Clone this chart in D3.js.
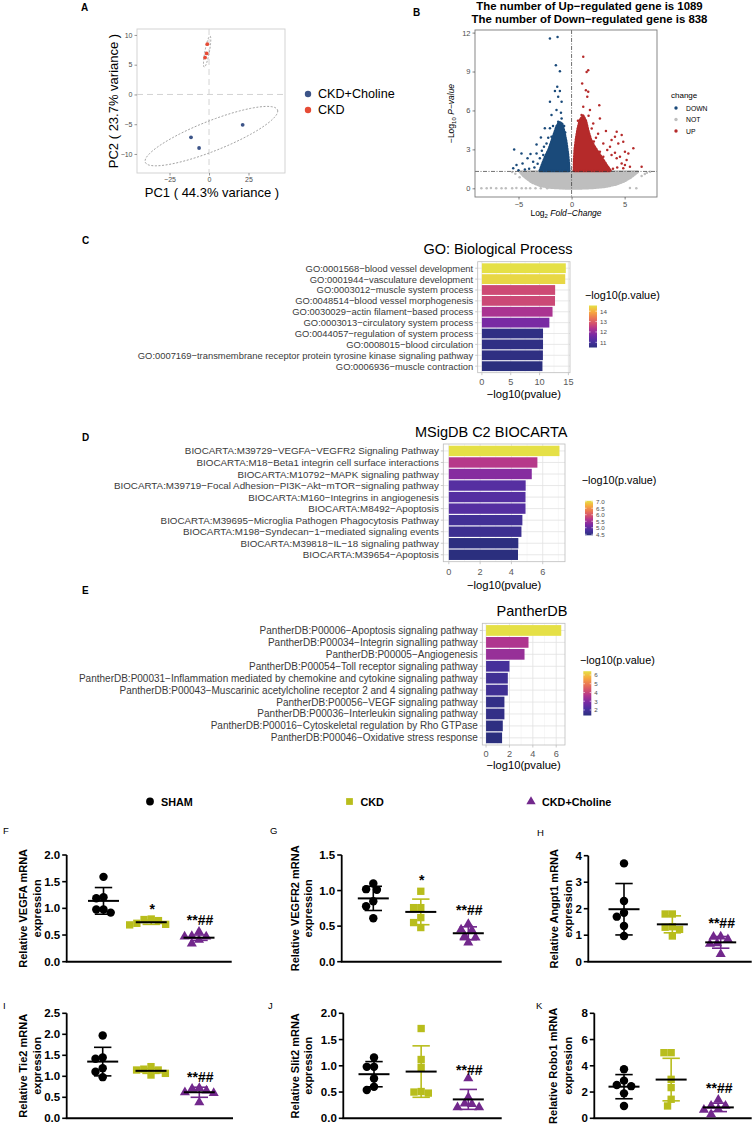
<!DOCTYPE html>
<html><head><meta charset="utf-8">
<script src="https://cdn.jsdelivr.net/npm/d3@7"></script>
<style>
body{margin:0;background:#fff}
svg{display:block}
text{font-family:"Liberation Sans",Arial,Helvetica,sans-serif}
</style></head>
<body><svg id="c" width="754" height="1127"></svg>
<script>
// ================= DATA =================
// Panel A – PCA
const pcaGroups = ["CKD+Choline","CKD"];
const pcaColors = ["#3C5488","#E64B35"];
const pcaCholinePC1 = [-11.4,-6.3,21.3];
const pcaCholinePC2 = [-7.2,-9.0,-5.1];
const pcaCKDPC1 = [-1.1,-1.5,-2.5];
const pcaCKDPC2 = [8.45,6.9,6.2];
// ellipse: centre (x,y), conjugate half-axis vectors u, v (data units)
const ellipseCholine = [1.5,-7.0,42,4.2,0,2.7];
const ellipseCKD = [-1.2,7.2,1.9,2.6,1.3,-0.2];
const pcaTicksX = [-25,0,25];
const pcaTicksY = [-10,-5,0,5,10];

// Panel B – volcano
const volcanoTitle = ["The number of Up\u2212regulated gene is 1089","The number of Down\u2212regulated gene is 838"];
const changeLevels = ["DOWN","NOT","UP"];
const changeColors = ["#1A4A7A","#BEBEBE","#B52A2A"];
const denseNot = [[-4.9,1.30],[-4.6,1.0],[-4.2,0.72],[-3.7,0.44],[-3.0,0.2],[-2.2,0.07],[-1.0,0.0],[0.5,-0.02],[2.0,0.03],[3.2,0.12],[4.2,0.3],[5.0,0.55],[5.6,0.85],[6.0,1.1],[6.3,1.30]];
const denseDown = [[-3.0,1.34],[-2.75,1.9],[-2.45,2.5],[-2.15,3.0],[-1.9,3.6],[-1.65,4.2],[-1.4,4.8],[-1.15,5.1],[-0.9,5.0],[-0.7,4.4],[-0.5,3.6],[-0.35,2.7],[-0.25,1.9],[-0.22,1.34]];
const denseUp = [[0.22,1.34],[0.24,2.2],[0.3,3.0],[0.42,3.8],[0.58,4.6],[0.8,5.3],[1.1,5.6],[1.35,5.2],[1.55,4.5],[1.8,3.8],[2.1,3.3],[2.5,2.8],[2.9,2.3],[3.3,1.8],[3.7,1.34]];
const pointsNot = [[-8.5,0],[-8.0,0],[-7.6,0.02],[-7.1,0],[-6.6,0],[-6.2,0.01],[-5.6,0],[-5.2,0.02],[-4.7,0],[-4.3,0],[-3.9,0],[-3.4,0.01],[-2.9,0],[-2.3,0],[5.5,0.02],[6.1,0],[6.9,1.1],[7.1,1.2],[7.4,1.28],[6.6,0.95],[-5.3,1.12],[-5.6,1.25],[-4.9,0.85]];
const pointsDown = [[-2.04,11.54],[-1.32,11.67],[-1.48,9.49],[-1.1,9.03],[-1.35,7.82],[-1.1,7.5],[-1.57,7.49],[-2.04,6.67],[-1.26,7.05],[-0.94,6.67],[-1.42,6.03],[-1.0,5.82],[-1.89,5.64],[-0.94,5.38],[-1.26,5.13],[-2.04,4.62],[-2.52,4.62],[-2.89,3.92],[-3.3,3.38],[-2.36,3.46],[-3.87,2.64],[-4.72,2.69],[-5.41,3.0],[-4.15,2.31],[-5.19,1.79],[-5.5,1.54],[-4.62,1.92],[-3.62,2.05],[-2.99,2.31],[-3.3,2.69],[-2.67,2.56],[-1.89,3.97],[-1.57,4.23],[-3.5,1.6],[-4.0,1.5],[-3.2,1.9],[-2.8,2.9],[-2.6,3.2],[-2.2,3.9],[-1.75,4.8],[-0.7,4.8],[-0.6,4.3],[-4.4,1.45],[-5.0,1.4]];
const pointsUp = [[1.1,10.13],[1.57,9.1],[1.42,8.97],[1.0,8.08],[1.35,7.56],[1.57,7.44],[1.48,7.05],[2.61,6.41],[1.1,6.28],[1.73,6.03],[2.67,5.38],[0.94,5.64],[2.04,5.0],[4.25,4.36],[4.09,3.97],[4.72,4.1],[3.24,4.41],[3.77,3.72],[4.87,3.59],[4.4,3.46],[3.62,3.21],[2.99,3.46],[5.82,3.08],[5.03,2.82],[5.35,2.69],[4.56,2.44],[4.09,2.74],[5.19,2.18],[4.72,1.92],[4.25,2.31],[5.03,1.79],[3.36,2.95],[3.77,2.56],[5.5,1.67],[6.6,1.67],[4.87,1.54],[2.99,2.44],[2.67,2.82],[2.83,1.92],[3.3,1.67],[1.9,4.6],[2.3,3.9],[2.5,4.2],[0.6,5.2],[1.6,5.6],[3.9,1.5],[4.3,1.6],[2.1,3.6]];
const volcanoTicksX = [-5,0,5];
const volcanoTicksY = [0,3,6,9,12];

// Panels C–E – enrichment
const goTerms = ["GO:0001568\u2212blood vessel development","GO:0001944\u2212vasculature development","GO:0003012\u2212muscle system process","GO:0048514\u2212blood vessel morphogenesis","GO:0030029\u2212actin filament\u2212based process","GO:0003013\u2212circulatory system process","GO:0044057\u2212regulation of system process","GO:0008015\u2212blood circulation","GO:0007169\u2212transmembrane receptor protein tyrosine kinase signaling pathway","GO:0006936\u2212muscle contraction"];
const goValues = [14.55,14.45,12.7,12.68,12.25,11.7,10.6,10.6,10.58,10.5];
const biocartaTerms = ["BIOCARTA:M39729\u2212VEGFA\u2212VEGFR2 Signaling Pathway","BIOCARTA:M18\u2212Beta1 integrin cell surface interactions","BIOCARTA:M10792\u2212MAPK signaling pathway","BIOCARTA:M39719\u2212Focal Adhesion\u2212PI3K\u2212Akt\u2212mTOR\u2212signaling pathway","BIOCARTA:M160\u2212Integrins in angiogenesis","BIOCARTA:M8492\u2212Apoptosis","BIOCARTA:M39695\u2212Microglia Pathogen Phagocytosis Pathway","BIOCARTA:M198\u2212Syndecan\u22121\u2212mediated signaling events","BIOCARTA:M39818\u2212IL\u221218 signaling pathway","BIOCARTA:M39654\u2212Apoptosis"];
const biocartaValues = [7.07,5.66,5.3,4.91,4.9,4.9,4.7,4.64,4.44,4.42];
const pantherTerms = ["PantherDB:P00006\u2212Apoptosis signaling pathway","PantherDB:P00034\u2212Integrin signalling pathway","PantherDB:P00005\u2212Angiogenesis","PantherDB:P00054\u2212Toll receptor signaling pathway","PantherDB:P00031\u2212Inflammation mediated by chemokine and cytokine signaling pathway","PantherDB:P00043\u2212Muscarinic acetylcholine receptor 2 and 4 signaling pathway","PantherDB:P00056\u2212VEGF signaling pathway","PantherDB:P00036\u2212Interleukin signaling pathway","PantherDB:P00016\u2212Cytoskeletal regulation by Rho GTPase","PantherDB:P00046\u2212Oxidative stress response"];
const pantherValues = [6.43,3.63,3.29,2.0,1.86,1.86,1.57,1.57,1.43,1.37];
const enrichTitles = ["GO: Biological Process","MSigDB C2 BIOCARTA","PantherDB"];
const goTicks = [0,5,10,15], biocartaTicks = [0,2,4,6], pantherTicks = [0,2,4,6];
const goLegendTicks = [11,12,13,14];
const biocartaLegendTicks = [4.5,5.0,5.5,6.0,6.5,7.0];
const pantherLegendTicks = [2,3,4,5,6];

// Panels F–K – qPCR
const qpcrGroups = ["SHAM","CKD","CKD+Choline"];
const qpcrColors = ["#000000","#B8BD1C","#72288C"];
const qpcrGenes = ["VEGFA","VEGFR2","Angpt1","Tie2","Slit2","Robo1"];
const vegfaValues  = [[1.59,1.21,1.19,0.98,0.98,0.92],[0.80,0.79,0.77,0.72,0.70,0.69],[0.56,0.48,0.47,0.47,0.41,0.34]];
const vegfr2Values = [[1.10,1.02,1.01,0.85,0.78,0.61],[0.99,0.76,0.76,0.62,0.55,0.48],[0.53,0.45,0.44,0.36,0.34,0.27]];
const angpt1Values = [[3.71,2.29,1.85,1.70,1.35,0.97],[1.80,1.80,1.32,1.30,1.22,0.97],[0.95,0.94,0.84,0.69,0.67,0.29]];
const tie2Values   = [[1.97,1.45,1.42,1.19,1.11,0.98],[1.23,1.17,1.15,1.15,1.07,1.03],[0.72,0.70,0.66,0.62,0.60,0.38]];
const slit2Values  = [[1.16,0.98,0.98,0.76,0.60,0.54],[1.71,1.12,0.97,0.51,0.50,0.48],[0.76,0.40,0.28,0.27,0.21,0.21]];
const robo1Values  = [[3.73,2.87,2.54,2.45,1.90,0.94],[5.0,5.0,2.97,2.34,1.45,0.94],[1.40,0.95,0.95,0.70,0.65,0.30]];
const qpcrMeans = [[1.14,0.74,0.45],[0.89,0.70,0.40],[1.98,1.41,0.73],[1.35,1.13,0.62],[0.84,0.89,0.36],[2.41,2.95,0.83]];
const qpcrSDs   = [[0.25,0.04,0.05],[0.17,0.18,0.09],[0.97,0.32,0.22],[0.34,0.06,0.12],[0.24,0.49,0.19],[0.92,1.62,0.32]];
const qpcrSigText = [["","*","**##"],["","*","**##"],["","","**##"],["","","**##"],["","","**##"],["","","**##"]];
const qpcrSigLevel = [[0,0.99,0.78],[0,1.15,0.73],[0,0,1.47],[0,0,0.99],[0,0,0.92],[0,0,2.29]];
const qpcrYMax = [2.0,1.5,4,2.5,2.0,8];
const qpcrYStep = [0.5,0.5,1,0.5,0.5,2];

// ================= DRAWING =================
const svg = d3.select("#c");
const defs = svg.append("defs");

function label(g, x, y, s, o = {}) {
  const t = g.append("text").attr("x", x).attr("y", y).text(s)
    .attr("font-size", o.fs || 10).attr("fill", o.fill || "#000")
    .attr("text-anchor", o.anchor || "start");
  if (o.weight) t.attr("font-weight", o.weight);
  if (o.baseline) t.attr("dominant-baseline", o.baseline);
  if (o.rotate) t.attr("transform", `rotate(${o.rotate},${x},${y})`);
  return t;
}

// panel letters
[["A",81,11],["B",413,16],["C",82,244],["D",82,441],["E",82,594]].forEach(d =>
  label(svg, d[1], d[2], d[0], {fs: 10, weight: "bold"}));

// ---------- Panel A ----------
(function(){
  const g = svg.append("g");
  const x = d3.scaleLinear().domain([-45.6,48.1]).range([137,285]);
  const y = d3.scaleLinear().domain([-13.2,11]).range([173,29]);
  g.append("rect").attr("x",137).attr("y",29).attr("width",148).attr("height",144)
    .attr("fill","#fff").attr("stroke","#CFCFCF").attr("stroke-width",0.9);
  g.append("line").attr("x1",x(0)).attr("x2",x(0)).attr("y1",29).attr("y2",173)
    .attr("stroke","#D3D3D3").attr("stroke-width",1).attr("stroke-dasharray","6,4");
  g.append("line").attr("x1",137).attr("x2",285).attr("y1",y(0)).attr("y2",y(0))
    .attr("stroke","#D3D3D3").attr("stroke-width",1).attr("stroke-dasharray","6,4");
  const ell = e => d3.range(0,101).map(i => { const t = i/100*2*Math.PI;
    return [e[0]+e[2]*Math.cos(t)+e[4]*Math.sin(t), e[1]+e[3]*Math.cos(t)+e[5]*Math.sin(t)]; });
  const line = d3.line().x(d=>x(d[0])).y(d=>y(d[1]));
  [ellipseCholine, ellipseCKD].forEach(e => g.append("path").attr("d", line(ell(e)))
    .attr("fill","none").attr("stroke","#8A8A8A").attr("stroke-width",0.8).attr("stroke-dasharray","2,1.6"));
  pcaCholinePC1.forEach((v,i)=> g.append("circle").attr("cx",x(v)).attr("cy",y(pcaCholinePC2[i])).attr("r",1.9).attr("fill",pcaColors[0]));
  pcaCKDPC1.forEach((v,i)=> g.append("circle").attr("cx",x(v)).attr("cy",y(pcaCKDPC2[i])).attr("r",1.9).attr("fill",pcaColors[1]));
  const ax = g.append("g").attr("transform","translate(0,173)")
    .call(d3.axisBottom(x).tickValues(pcaTicksX).tickSize(2.5).tickPadding(2));
  const ay = g.append("g").attr("transform","translate(137,0)")
    .call(d3.axisLeft(y).tickValues(pcaTicksY).tickSize(2.5).tickPadding(2));
  [ax,ay].forEach(a => { a.select(".domain").remove();
    a.selectAll(".tick line").attr("stroke","#555").attr("stroke-width",0.6);
    a.selectAll(".tick text").attr("fill","#4D4D4D").attr("font-size",7).attr("font-family",null); });
  label(g, 212, 197, "PC1 ( 44.3% variance )", {fs: 13, anchor: "middle"});
  label(g, 113, 101, "PC2 ( 23.7% variance )", {fs: 13, anchor: "middle", baseline: "central", rotate: -90});
  pcaGroups.forEach((n,i)=>{
    g.append("circle").attr("cx",308).attr("cy",94+16*i).attr("r",3.2).attr("fill",pcaColors[i]);
    label(g, 318, 94+16*i, n, {fs: 12.6, baseline: "central"});
  });
})();

// ---------- Panel B ----------
(function(){
  const g = svg.append("g");
  const x = d3.scaleLinear().domain([-9.1,8.05]).range([475,657]);
  const y = d3.scaleLinear().domain([-0.67,12.2]).range([197,30]);
  label(g, 589.5, 10, volcanoTitle[0], {fs: 11.4, weight: "bold", anchor: "middle"});
  label(g, 589.5, 22.5, volcanoTitle[1], {fs: 11.4, weight: "bold", anchor: "middle"});
  g.append("rect").attr("x",475).attr("y",30).attr("width",182).attr("height",167).attr("fill","#fff");
  const clip = defs.append("clipPath").attr("id","clipB");
  clip.append("rect").attr("x",475).attr("y",30).attr("width",182).attr("height",167);
  const pg = g.append("g").attr("clip-path","url(#clipB)");
  const area = d3.line().x(d=>x(d[0])).y(d=>y(d[1])).curve(d3.curveLinearClosed);
  // indices follow changeLevels: 0 DOWN, 1 NOT, 2 UP
  const dense = [denseDown, denseNot, denseUp], pts = [pointsDown, pointsNot, pointsUp];
  [1,0,2].forEach(k => {
    pg.append("path").attr("d", area(dense[k])).attr("fill", changeColors[k])
      .attr("stroke", changeColors[k]).attr("stroke-width", 2.6).attr("stroke-dasharray","1.2,1.6")
      .attr("stroke-linecap","round").attr("stroke-linejoin","round");
    pts[k].forEach(p => pg.append("circle").attr("cx",x(p[0])).attr("cy",y(p[1])).attr("r",1.25).attr("fill",changeColors[k]));
  });
  pg.append("line").attr("x1",475).attr("x2",657).attr("y1",y(1.3)).attr("y2",y(1.3))
    .attr("stroke","#333").attr("stroke-width",0.7).attr("stroke-dasharray","4,1.5,1,1.5");
  pg.append("line").attr("x1",x(0)).attr("x2",x(0)).attr("y1",30).attr("y2",197)
    .attr("stroke","#333").attr("stroke-width",0.7).attr("stroke-dasharray","4,1.5,1,1.5");
  g.append("rect").attr("x",475).attr("y",30).attr("width",182).attr("height",167)
    .attr("fill","none").attr("stroke","#7A7A7A").attr("stroke-width",0.9);
  const ax = g.append("g").attr("transform","translate(0,197)")
    .call(d3.axisBottom(x).tickValues(volcanoTicksX).tickSize(2.5).tickPadding(2));
  const ay = g.append("g").attr("transform","translate(475,0)")
    .call(d3.axisLeft(y).tickValues(volcanoTicksY).tickSize(2.5).tickPadding(2));
  [ax,ay].forEach(a => { a.select(".domain").remove();
    a.selectAll(".tick line").attr("stroke","#333").attr("stroke-width",0.6);
    a.selectAll(".tick text").attr("fill","#4D4D4D").attr("font-size",7.5).attr("font-family",null); });
  const xt = g.append("text").attr("x",566).attr("y",216).attr("text-anchor","middle").attr("font-size",8.5);
  xt.append("tspan").text("Log");
  xt.append("tspan").text("2").attr("font-size",6).attr("dy",2);
  xt.append("tspan").text(" Fold\u2212Change").attr("dy",-2).attr("font-style","italic");
  const yt = g.append("text").attr("x",0).attr("y",0).attr("text-anchor","middle").attr("font-size",8.5)
    .attr("transform","translate(454,113.5) rotate(-90)");
  yt.append("tspan").text("\u2212Log");
  yt.append("tspan").text("10").attr("font-size",6).attr("dy",2);
  yt.append("tspan").text(" P\u2212value").attr("dy",-2).attr("font-style","italic");
  label(g, 671, 95, "change", {fs: 8, baseline: "central"});
  changeLevels.forEach((n,i)=>{
    g.append("circle").attr("cx",676).attr("cy",108+11.5*i).attr("r",1.7).attr("fill",changeColors[i]);
    label(g, 686, 108+11.5*i, n, {fs: 6.8, baseline: "central"});
  });
})();

// ---------- Panels C–E ----------
const plasmaPos = [0,0.15,0.3,0.45,0.55,0.7,0.85,1];
const plasmaCols = ["#2B2F7E","#4B30A0","#7A2AA3","#B0358F","#CF4C73","#EA7655","#F7AA3E","#E5E046"];
const enrichLayout = [
  {x0:477.7,x1:570,y0:261.7,y1:372.7,fs:9.4,titleY:254,tickY:384.5,axY:397.5,legX:585,legY:295,cbX:589,cbTop:305.5,cbBot:347.5,fmt:"d"},
  {x0:443.3,x1:565,y0:444,y1:561.7,fs:9.8,titleY:436.5,tickY:574.5,axY:588.5,legX:581.7,legY:480,cbX:585,cbTop:500.8,cbBot:535.3,fmt:".1f"},
  {x0:482.3,x1:565,y0:623.3,y1:745,fs:10,titleY:615.5,tickY:756.5,axY:768.5,legX:580,legY:660,cbX:583.3,cbTop:671.2,cbBot:715.5,fmt:"d"}
];
function enrich(k, terms, vals, ticks, legTicks) {
  const L = enrichLayout[k];
  const g = svg.append("g");
  const vmax = d3.max(vals), vmin = d3.min(vals);
  const x = d3.scaleLinear().domain([-0.05*vmax, 1.05*vmax]).range([L.x0, L.x1]);
  const y = d3.scalePoint().domain(terms).range([L.y0, L.y1]).padding(0.6);
  const col = d3.scaleLinear().domain(plasmaPos.map(t => vmin + t*(vmax-vmin))).range(plasmaCols);
  g.append("rect").attr("x",L.x0).attr("y",L.y0).attr("width",L.x1-L.x0).attr("height",L.y1-L.y0).attr("fill","#fff");
  const step = ticks[1]-ticks[0];
  const minors = d3.range(ticks[0]-step/2, x.domain()[1], step).filter(v => v > x.domain()[0]);
  minors.forEach(v => g.append("line").attr("x1",x(v)).attr("x2",x(v)).attr("y1",L.y0).attr("y2",L.y1).attr("stroke","#EFEFEF").attr("stroke-width",0.5));
  ticks.filter(v=>v<=x.domain()[1]).forEach(v => g.append("line").attr("x1",x(v)).attr("x2",x(v)).attr("y1",L.y0).attr("y2",L.y1).attr("stroke","#E2E2E2").attr("stroke-width",0.8));
  terms.forEach(t => g.append("line").attr("x1",L.x0).attr("x2",L.x1).attr("y1",y(t)).attr("y2",y(t)).attr("stroke","#E2E2E2").attr("stroke-width",0.8));
  const bh = y.step()*0.9;
  terms.forEach((t,i) => g.append("rect").attr("x",x(0)).attr("y",y(t)-bh/2).attr("width",x(vals[i])-x(0)).attr("height",bh).attr("fill",col(vals[i])));
  g.append("rect").attr("x",L.x0).attr("y",L.y0).attr("width",L.x1-L.x0).attr("height",L.y1-L.y0)
    .attr("fill","none").attr("stroke","#BDBDBD").attr("stroke-width",0.8);
  ticks.forEach(v => {
    g.append("line").attr("x1",x(v)).attr("x2",x(v)).attr("y1",L.y1).attr("y2",L.y1+2.5).attr("stroke","#BDBDBD").attr("stroke-width",0.8);
    label(g, x(v), L.tickY, String(v), {fs: 9.2, fill: "#5A5A5A", anchor: "middle"});
  });
  terms.forEach(t => {
    g.append("line").attr("x1",L.x0-2.5).attr("x2",L.x0).attr("y1",y(t)).attr("y2",y(t)).attr("stroke","#BDBDBD").attr("stroke-width",0.8);
    label(g, L.x0-4.5, y(t), t, {fs: L.fs, fill: "#3A3A3A", anchor: "end", baseline: "central"});
  });
  label(g, L.x1+2.5, L.titleY, enrichTitles[k], {fs: 14.5, anchor: "end"});
  label(g, (L.x0+L.x1)/2, L.axY, "\u2212log10(pvalue)", {fs: 11.2, anchor: "middle"});
  label(g, L.legX, L.legY, "\u2212log10(p.value)", {fs: 10.8, baseline: "central"});
  const gid = "grad"+k;
  const grad = defs.append("linearGradient").attr("id",gid).attr("x1",0).attr("y1",1).attr("x2",0).attr("y2",0);
  d3.range(0,1.0001,0.05).forEach(t => grad.append("stop").attr("offset",t).attr("stop-color",col(vmin+t*(vmax-vmin))));
  const cb = d3.scaleLinear().domain([vmin,vmax]).range([L.cbBot,L.cbTop]);
  g.append("rect").attr("x",L.cbX).attr("y",L.cbTop).attr("width",8).attr("height",L.cbBot-L.cbTop).attr("fill",`url(#${gid})`);
  const f = d3.format(L.fmt);
  legTicks.forEach(v => {
    g.append("line").attr("x1",L.cbX).attr("x2",L.cbX+1.6).attr("y1",cb(v)).attr("y2",cb(v)).attr("stroke","#fff").attr("stroke-width",0.6);
    g.append("line").attr("x1",L.cbX+6.4).attr("x2",L.cbX+8).attr("y1",cb(v)).attr("y2",cb(v)).attr("stroke","#fff").attr("stroke-width",0.6);
    label(g, L.cbX+11, cb(v), f(v), {fs: 6.2, fill: "#4D4D4D", baseline: "central"});
  });
}
enrich(0, goTerms, goValues, goTicks, goLegendTicks);
enrich(1, biocartaTerms, biocartaValues, biocartaTicks, biocartaLegendTicks);
enrich(2, pantherTerms, pantherValues, pantherTicks, pantherLegendTicks);

// ---------- Group legend ----------
const symbolTypes = [d3.symbolCircle, d3.symbolSquare, d3.symbolTriangle];
const symbolSizes = [56, 54, 44];
(function(){
  const legX = [150, 349.5, 531];
  qpcrGroups.forEach((n,i) => {
    svg.append("path").attr("d", d3.symbol(symbolTypes[i], symbolSizes[i]*0.85)())
      .attr("transform", `translate(${legX[i]},801.5)`).attr("fill", qpcrColors[i]);
    label(svg, legX[i]+11, 801.5, n, {fs: 10.8, weight: "bold", baseline: "central"});
  });
})();

// ---------- Panels F–K ----------
const qpcrData = [vegfaValues, vegfr2Values, angpt1Values, tie2Values, slit2Values, robo1Values];
const qpcrLayout = [
  {letter:"F",lx:3,ly:834,ax0:66.7,ax1:231.7,yTop:855,yBot:961.7,c0:103.5,c2:199,t1:22.7,t2:37.3,fmt:".1f"},
  {letter:"G",lx:270,ly:834,ax0:341.7,ax1:501.7,yTop:855,yBot:961.7,c0:373.3,c2:468.3,t1:295,t2:308.3,fmt:".1f"},
  {letter:"H",lx:537,ly:836,ax0:588.3,ax1:751.7,yTop:855.7,yBot:961.7,c0:624,c2:720.7,t1:554,t2:567.7,fmt:"d"},
  {letter:"I",lx:3,ly:1009,ax0:66.7,ax1:233,yTop:1013.3,yBot:1118.3,c0:102.7,c2:199.3,t1:22.7,t2:37.3,fmt:".1f"},
  {letter:"J",lx:268,ly:1009,ax0:343.3,ax1:501.7,yTop:1013.3,yBot:1118.3,c0:374,c2:468.3,t1:295,t2:308.3,fmt:".1f"},
  {letter:"K",lx:536,ly:1009,ax0:594.3,ax1:751.7,yTop:1013.3,yBot:1118.3,c0:624,c2:718.3,t1:553.3,t2:567.7,fmt:"d"}
];
function swarm(vals, ys, minD, step) {
  const placed = [];
  return vals.map(v => {
    const py = ys(v);
    for (let k = 0; k < 60; k++) {
      const off = k === 0 ? 0 : (k % 2 ? -Math.ceil(k/2)*step : Math.ceil(k/2)*step);
      if (placed.every(p => Math.hypot(p[0]-off, p[1]-py) >= minD)) { placed.push([off,py]); return off; }
    }
    return 0;
  });
}
qpcrGenes.forEach((gene, gi) => {
  const L = qpcrLayout[gi];
  const g = svg.append("g");
  const y = d3.scaleLinear().domain([0, qpcrYMax[gi]]).range([L.yBot, L.yTop]);
  const x = d3.scalePoint().domain(qpcrGroups).range([L.c0, L.c2]);
  label(g, L.lx, L.ly, L.letter, {fs: 9.5});
  const tv = d3.range(0, qpcrYMax[gi] + 1e-9, qpcrYStep[gi]);
  const f = d3.format(L.fmt);
  g.append("line").attr("x1",L.ax0).attr("x2",L.ax0).attr("y1",L.yTop).attr("y2",L.yBot).attr("stroke","#000").attr("stroke-width",1.8);
  g.append("line").attr("x1",L.ax0-0.9).attr("x2",L.ax1).attr("y1",L.yBot).attr("y2",L.yBot).attr("stroke","#000").attr("stroke-width",2);
  tv.forEach(v => {
    g.append("line").attr("x1",L.ax0-4.5).attr("x2",L.ax0).attr("y1",y(v)).attr("y2",y(v)).attr("stroke","#000").attr("stroke-width",1.6);
    label(g, L.ax0-6.5, y(v), f(v), {fs: 11.5, weight: "bold", anchor: "end", baseline: "central"});
  });
  const ym = (L.yTop + L.yBot)/2;
  label(g, L.t1, ym, `Relative ${gene} mRNA`, {fs: 11, weight: "bold", anchor: "middle", baseline: "central", rotate: -90});
  label(g, L.t2, ym, "expression", {fs: 11, weight: "bold", anchor: "middle", baseline: "central", rotate: -90});
  qpcrGroups.forEach((grp, k) => {
    const cx = x(grp), vals = qpcrData[gi][k], m = qpcrMeans[gi][k], sd = qpcrSDs[gi][k];
    const c = qpcrColors[k];
    g.append("line").attr("x1",cx).attr("x2",cx).attr("y1",y(m+sd)).attr("y2",y(Math.max(0,m-sd))).attr("stroke",c).attr("stroke-width",1.6);
    [m+sd, m-sd].forEach(v => g.append("line").attr("x1",cx-8.7).attr("x2",cx+8.7).attr("y1",y(v)).attr("y2",y(v)).attr("stroke",c).attr("stroke-width",1.6));
    const offs = swarm(vals, y, 7.2, 3.6);
    vals.forEach((v,i) => g.append("path").attr("d", d3.symbol(symbolTypes[k], symbolSizes[k])())
      .attr("transform", `translate(${cx+offs[i]},${y(v)})`).attr("fill", c));
    g.append("line").attr("x1",cx-15.5).attr("x2",cx+15.5).attr("y1",y(m)).attr("y2",y(m)).attr("stroke","#000").attr("stroke-width",2);
    if (qpcrSigText[gi][k]) label(g, cx+1, y(qpcrSigLevel[gi][k]), qpcrSigText[gi][k], {fs: 14, weight: "bold", anchor: "middle", baseline: "central"});
  });
});
</script></body></html>
